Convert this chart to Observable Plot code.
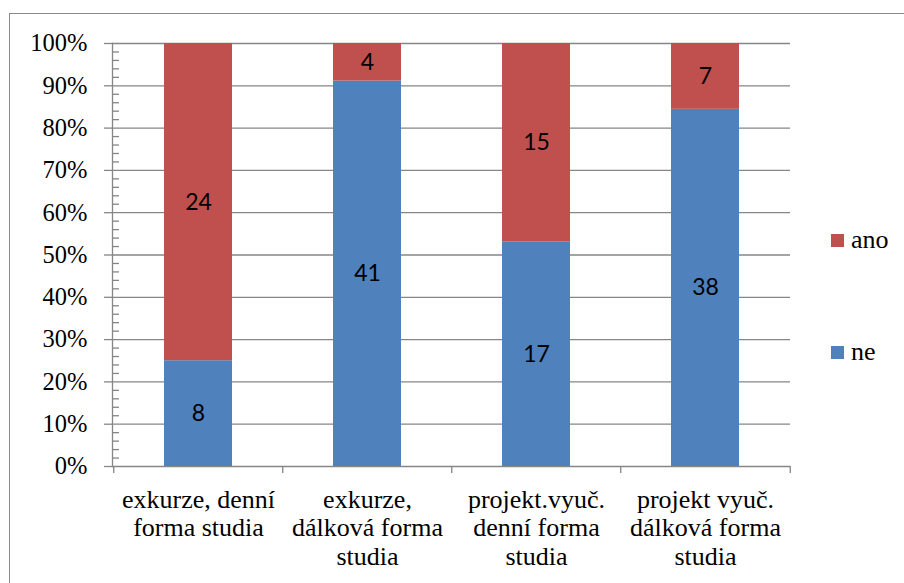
<!DOCTYPE html>
<html>
<head>
<meta charset="utf-8">
<script src="https://cdn.jsdelivr.net/npm/d3@7"></script>
<script src="https://cdn.jsdelivr.net/npm/@observablehq/plot@0.6"></script>
<style>
  body { margin: 0; background: #fff; }
  #chart { position: relative; width: 904px; height: 583px; overflow: hidden; background: #fff; }
  #chart svg { position: absolute; left: 0; top: 0; }
  #border { position: absolute; left: 9px; top: 13px; right: -4px; bottom: -4px;
            border-top: 1.5px solid #8a8a8a; border-left: 1.5px solid #8a8a8a; pointer-events: none; }
  .legend-item { position: absolute; left: 831px; height: 30px; display: flex; align-items: center;
                 font-family: "Liberation Serif", "Times New Roman", serif; font-size: 26px;
                 color: #000; white-space: nowrap; }
  .legend-swatch { width: 13px; height: 13px; margin-right: 7px; }
</style>
</head>
<body>
<div id="chart"></div>
<script>
// Categories (x axis labels, line breaks as shown under the bars)
const categories = [
  "exkurze, denní\nforma studia",
  "exkurze,\ndálková forma\nstudia",
  "projekt.vyuč.\ndenní forma\nstudia",
  "projekt vyuč.\ndálková forma\nstudia"
];
// Counts per category
const neValues = [8, 41, 17, 38];
const anoValues = [24, 4, 15, 7];
// Series: stacking order bottom → top, and their colours
const seriesNames = ["ne", "ano"];
const seriesColors = ["#4F81BD", "#C0504D"];
// Y axis ticks (shares of 100 %)
const yTicks = d3.range(0, 101, 10).map(v => v / 100);
const yMinorTicks = d3.range(0, 101, 2).filter(v => v % 10 !== 0).map(v => v / 100);

const rows = [];
categories.forEach((c, i) => {
  rows.push({category: c, series: "ne", value: neValues[i]});
  rows.push({category: c, series: "ano", value: anoValues[i]});
});

const W = 904, H = 583;
const margin = {left: 112, right: 114, top: 43, bottom: 117};
const step = (W - margin.left - margin.right) / categories.length;
const gray = "#868686";
const serif = "Liberation Serif";

const stackOpts = {x: "category", y: "value", z: "series", offset: "normalize", order: seriesNames};

const chart = Plot.plot({
  width: W,
  height: H,
  marginLeft: margin.left,
  marginRight: margin.right,
  marginTop: margin.top,
  marginBottom: margin.bottom,
  style: {background: "transparent", overflow: "visible"},
  x: {domain: categories, paddingInner: 0.6, paddingOuter: 0.3, label: null},
  y: {domain: [0, 1], label: null},
  color: {domain: seriesNames, range: seriesColors},
  marks: [
    // horizontal gridlines incl. the 0 % baseline
    Plot.gridY({ticks: yTicks, stroke: gray, strokeOpacity: 1, strokeWidth: 1.3}),
    // vertical axis line
    Plot.frame({anchor: "left", stroke: gray, strokeWidth: 1.3}),
    // major ticks outside the axis
    Plot.axisY({ticks: yTicks, tickSize: 8, text: null, label: null, stroke: gray, strokeWidth: 1.3}),
    // minor ticks inside the axis
    Plot.axisY({ticks: yMinorTicks, tickSize: -7, text: null, label: null, stroke: gray, strokeWidth: 1.3}),
    // percentage labels
    Plot.axisY({ticks: yTicks, tickSize: 0, tickPadding: 25, label: null,
      tickFormat: d => Math.round(d * 100) + "%",
      fontFamily: serif, fontSize: 24.5, fill: "#000"}),
    // category separators on the x axis
    Plot.axisX({ticks: categories, tickSize: 7, text: null, label: null, dx: -step / 2, stroke: gray, strokeWidth: 1.3}),
    Plot.axisX({ticks: categories.slice(-1), tickSize: 7, text: null, label: null, dx: step / 2, stroke: gray, strokeWidth: 1.3}),
    // category labels
    Plot.axisX({tickSize: 0, tickPadding: 21, label: null, fontFamily: serif, fontSize: 26,
      lineHeight: 1.1, fill: "#000"}),
    // stacked 100 % bars
    Plot.barY(rows, Plot.stackY({...stackOpts, fill: "series"})),
    // counts in the middle of each segment
    Plot.text(rows, Plot.stackY({...stackOpts, text: "value",
      fontFamily: "Lato", fontSize: 23, fill: "#000"}))
  ]
});

const root = document.getElementById("chart");
root.appendChild(chart);

// chart border (top and left edges)
const border = document.createElement("div");
border.id = "border";
root.appendChild(border);

// legend at the right (top entry is the upper series)
const legendTops = {ano: 225, ne: 337};
seriesNames.forEach((name, i) => {
  const item = document.createElement("div");
  item.className = "legend-item";
  item.style.top = legendTops[name] + "px";
  const sw = document.createElement("span");
  sw.className = "legend-swatch";
  sw.style.background = seriesColors[i];
  item.appendChild(sw);
  item.appendChild(document.createTextNode(name));
  root.appendChild(item);
});
</script>
</body>
</html>
